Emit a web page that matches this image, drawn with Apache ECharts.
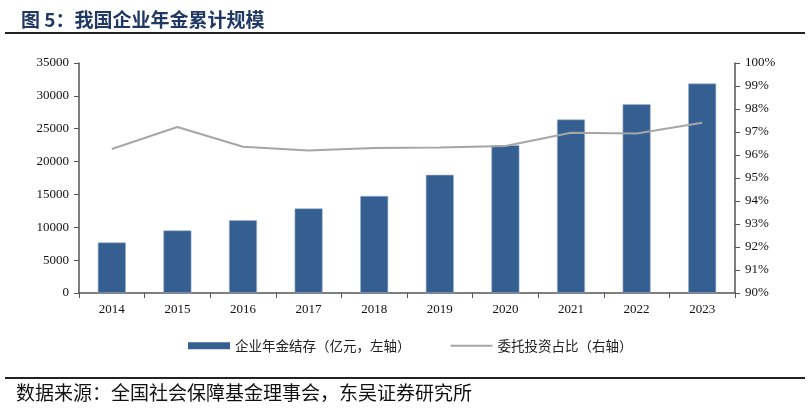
<!DOCTYPE html>
<html>
<head>
<meta charset="utf-8">
<script src="https://cdn.jsdelivr.net/npm/echarts@6/dist/echarts.min.js"></script>
<style>
  html, body { margin: 0; padding: 0; background: #fff; }
  #main { width: 810px; height: 419px; }
</style>
</head>
<body>
<div id="main"></div>
<script>
// 年份
var years = ['2014', '2015', '2016', '2017', '2018', '2019', '2020', '2021', '2022', '2023'];
// 企业年金结存（亿元）
var annuity = [7689, 9526, 11075, 12880, 14770, 17985, 22497, 26406, 28718, 31874];
// 委托投资占比（%）
var entrustRatio = [96.26, 97.22, 96.36, 96.2, 96.3, 96.33, 96.39, 96.97, 96.93, 97.4];

var serif = '"Liberation Serif", "Times New Roman", serif';
var cjk = '"Noto Sans CJK SC", sans-serif';

var chart = echarts.init(document.getElementById('main'));

chart.setOption({
  animation: false,
  title: {
    text: '图 5：我国企业年金累计规模',
    left: 16,
    top: 5,
    textStyle: { color: '#1f3864', fontSize: 19, fontWeight: 'bold', fontFamily: cjk }
  },
  graphic: [
    { type: 'rect', shape: { x: 5, y: 32, width: 800, height: 2 }, style: { fill: '#222' } },
    { type: 'rect', shape: { x: 5, y: 377, width: 800, height: 2 }, style: { fill: '#222' } },
    {
      type: 'text', left: 16, top: 383,
      style: { text: '数据来源：全国社会保障基金理事会，东吴证券研究所', fill: '#111', font: '19px ' + cjk }
    }
  ],
  legend: {
    top: 334,
    left: 183,
    itemGap: 40,
    itemWidth: 42,
    itemHeight: 7,
    textStyle: { fontFamily: cjk, fontSize: 13.5, color: '#222' },
    data: [
      { name: '企业年金结存（亿元，左轴）', icon: 'rect', itemStyle: { borderWidth: 0 } },
      { name: '委托投资占比（右轴）', icon: 'path://M0,0 L40,0 L40,2 L0,2 Z' }
    ]
  },
  grid: { left: 79, right: 75, top: 63, bottom: 126 },
  xAxis: {
    type: 'category',
    data: years,
    axisLine: { lineStyle: { color: '#555', width: 1.5 } },
    axisTick: { show: true, alignWithLabel: false, length: 5, lineStyle: { color: '#555' } },
    axisLabel: { color: '#111', fontFamily: serif, fontSize: 13, margin: 10 }
  },
  yAxis: [
    {
      type: 'value',
      min: 0,
      max: 35000,
      interval: 5000,
      splitLine: { show: false },
      axisLine: { show: true, lineStyle: { color: '#555', width: 1.5 } },
      axisTick: { show: true, inside: false, length: 5, lineStyle: { color: '#555' } },
      axisLabel: {
        color: '#111', fontFamily: serif, fontSize: 13, margin: 10,
        formatter: function (v) { return String(v); }
      }
    },
    {
      type: 'value',
      min: 90,
      max: 100,
      interval: 1,
      splitLine: { show: false },
      axisLine: { show: true, lineStyle: { color: '#555', width: 1.5 } },
      axisTick: { show: true, length: 5, lineStyle: { color: '#555' } },
      axisLabel: { color: '#111', fontFamily: serif, fontSize: 13, margin: 10, formatter: '{value}%' }
    }
  ],
  series: [
    {
      name: '企业年金结存（亿元，左轴）',
      type: 'bar',
      yAxisIndex: 0,
      data: annuity,
      barWidth: 28,
      itemStyle: { color: '#365f91', borderColor: '#9fb3cf', borderWidth: 0.6 }
    },
    {
      name: '委托投资占比（右轴）',
      type: 'line',
      yAxisIndex: 1,
      data: entrustRatio,
      symbol: 'none',
      lineStyle: { color: '#a6a6a6', width: 2 },
      itemStyle: { color: '#a6a6a6' }
    }
  ]
});
</script>
</body>
</html>
